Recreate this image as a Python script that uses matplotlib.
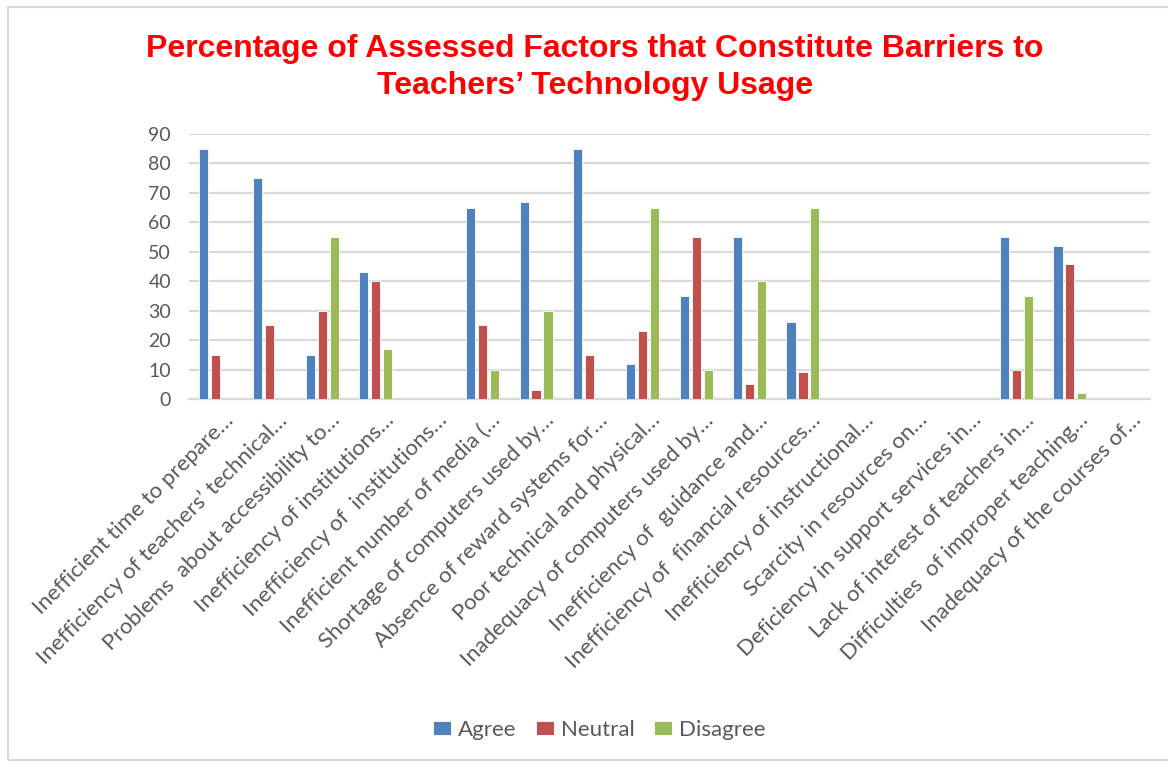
import numpy as np
import matplotlib.pyplot as plt
import matplotlib.transforms as mtransforms
from matplotlib.patches import Rectangle

# Factor labels (truncated as in the original chart)
factors = [
    "Inefficient time to prepare…",
    "Inefficiency of teachers’ technical…",
    "Problems  about accessibility to…",
    "Inefficiency of institutions…",
    "Inefficiency of  institutions…",
    "Inefficient number of media (…",
    "Shortage of computers used by…",
    "Absence of reward systems for…",
    "Poor technical and physical…",
    "Inadequacy of computers used by…",
    "Inefficiency of  guidance and…",
    "Inefficiency of  financial resources…",
    "Inefficiency of instructional…",
    "Scarcity in resources on…",
    "Deficiency in support services in…",
    "Lack of interest of teachers in…",
    "Difficulties  of improper teaching…",
    "Inadequacy of the courses of…",
]

agree = [85, 75, 15, 43, 0, 65, 67, 85, 12, 35, 55, 26, 0, 0, 0, 55, 52, 0]
neutral = [15, 25, 30, 40, 0, 25, 3, 15, 23, 55, 5, 9, 0, 0, 0, 10, 46, 0]
disagree = [0, 0, 55, 17, 0, 10, 30, 0, 65, 10, 40, 65, 0, 0, 0, 35, 2, 0]

series = {"Agree": agree, "Neutral": neutral, "Disagree": disagree}
colors = {"Agree": "#4F81BD", "Neutral": "#C0504D", "Disagree": "#9BBB59"}

text_gray = "#595959"
grid_gray = "#D9D9D9"

fig = plt.figure(figsize=(11.68, 7.63), dpi=100)
ax = fig.add_axes([0.1618, 0.4771, 0.8228, 0.3473])

x = np.arange(len(factors))
width = 0.17
step = 0.224
for i, (name, vals) in enumerate(series.items()):
    ax.bar(x + (i - 1) * step, vals, width, color=colors[name], label=name,
           edgecolor="white", linewidth=0.6, zorder=3)

ax.set_xlim(-0.5, len(factors) - 0.5)
ax.set_ylim(0, 90)
ax.set_yticks(range(0, 91, 10))
ax.yaxis.grid(True, color=grid_gray, linewidth=1.6, zorder=0)
ax.tick_params(axis="y", length=0, labelsize=14, labelcolor=text_gray, pad=13)
ax.tick_params(axis="x", length=0, pad=0)
for s in ["top", "right", "left"]:
    ax.spines[s].set_visible(False)
ax.spines["bottom"].set_color(grid_gray)
ax.spines["bottom"].set_linewidth(1.6)

ax.set_xticks(x)
ax.set_xticklabels(factors, rotation=45, ha="right", va="top",
                   rotation_mode="anchor", fontsize=16, color=text_gray)
shift = mtransforms.ScaledTranslation(7.5 / 100, -11 / 100, fig.dpi_scale_trans)
for lbl in ax.get_xticklabels():
    lbl.set_transform(lbl.get_transform() + shift)
for lbl in ax.get_xticklabels() + ax.get_yticklabels():
    lbl.set_family("Lato")

title_style = dict(ha="center", va="baseline", fontsize=23, fontweight="bold",
                   color="#FF0000", family="Liberation Sans")
fig.text(0.5094, 1 - 57 / 763, "Percentage of Assessed Factors that Constitute Barriers to", **title_style)
fig.text(0.5094, 1 - 94 / 763, "Teachers’ Technology Usage", **title_style)

leg = fig.legend(loc="center", bbox_to_anchor=(0.513, 0.043), ncol=3, frameon=False,
                 handlelength=0.8, handleheight=0.6, handletextpad=0.3,
                 columnspacing=0.9, prop={"family": "Lato", "size": 16})
for t in leg.get_texts():
    t.set_color(text_gray)

fig.patches.append(Rectangle((8 / 1168, 3 / 763), 1.2, 1 - 10 / 763, transform=fig.transFigure,
                             fill=False, edgecolor=grid_gray, linewidth=1.5))

fig.savefig("out.png", dpi=100)
